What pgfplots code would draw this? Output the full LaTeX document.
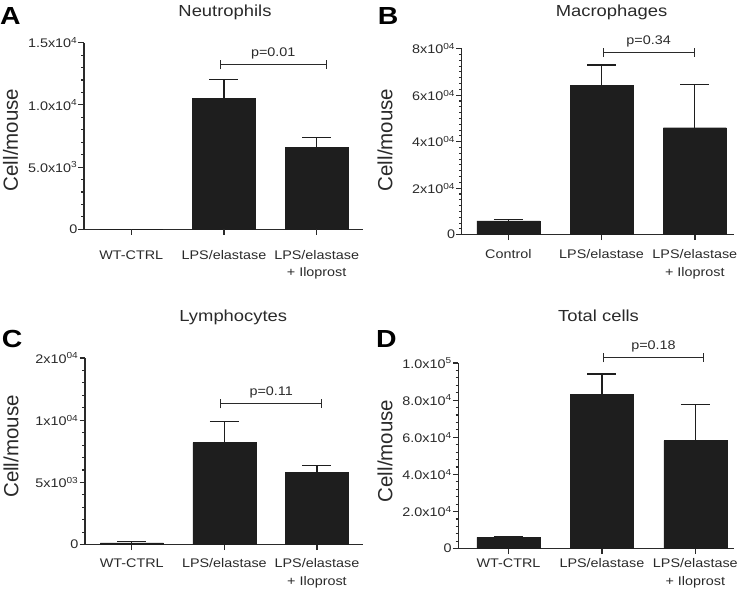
\documentclass[border=0pt]{standalone}
\usepackage{fontspec}
\setmainfont{Liberation Sans}[FakeStretch=1.15]
\newfontfamily\ylabfont{Liberation Sans}
\usepackage{pgfplots}
\pgfplotsset{compat=1.18}
\usetikzlibrary{arrows.meta}

\definecolor{barfill}{HTML}{1E1E1E}
\definecolor{ink}{HTML}{2A2A2A}
\newcommand{\tfont}{\fontsize{12.5}{17.5}\selectfont}

\tikzset{bracket/.style={ink, line width=1pt, {Bar[width=9pt]}-{Bar[width=9pt]}}}

% category ticks below the x axis, major ticks left of the y axis
\newcommand{\catticks}{%
  \pgfplotsinvokeforeach{0,1,2}{\draw[ink, line width=1.3pt] (axis cs:##1,0) -- ([yshift=-5.5pt]axis cs:##1,0);}}
\newcommand{\valticks}[2]{%
  \pgfplotsinvokeforeach{#2}{\draw[ink, line width=1.1pt] (axis cs:#1,##1) -- ([xshift=-5.5pt]axis cs:#1,##1);}}

\pgfplotsset{
  panel/.style={
    scale only axis, anchor=south west, clip=false,
    axis x line=bottom, axis y line=left,
    axis line style={-, line width=1.3pt, ink},
    enlargelimits=false,
    ymin=0,
    scaled y ticks=false,
    xtick={0,1,2},
    xtick align=outside, ytick align=outside,
    major tick length=5.5pt, minor tick length=2.7pt,
    x tick style={draw=ink, line width=1.4pt},
    y tick style={draw=ink, line width=1.1pt},
    ticklabel style={font=\tfont, text=ink},
    xticklabel style={align=center},
    yticklabel style={inner sep=1pt},
  },
  bars/.style={
    ybar, bar width=63pt, fill=barfill, draw=barfill,
    error bars/.cd, y dir=plus, y explicit, error mark=|,
    error bar style={line width=1.3pt, barfill},
    error mark options={mark size=14.5pt, line width=1.3pt, barfill},
  },
}

\begin{document}
\begin{tikzpicture}
\useasboundingbox (0,0) rectangle (742pt,596pt);

% A: neutrophils
\begin{axis}[panel, at={(84pt,366.7pt)}, width=279pt, height=186.6pt,
    xmin=-0.51, xmax=2.5, ymax=15000,
    ytick={0,5000,10000,15000}, minor y tick num=4,
    yticklabels={0, 5.0x10\textsuperscript{3}, 1.0x10\textsuperscript{4}, 1.5x10\textsuperscript{4}},
    xticklabels={WT-CTRL, LPS/elastase, {LPS/elastase\\+ Iloprost}},
    xticklabel style={yshift=-12pt}]
  \addplot[bars] table[x=x, y=y, y error=e, row sep=\\] {
    x y e \\ 0 0 0 \\ 1 10500 1550 \\ 2 6600 800 \\
  };
  \catticks
  \valticks{-0.51}{5000,10000,15000}
  \draw[bracket] (axis cs:0.955,13226) -- (axis cs:2.108,13226)
    node[midway, anchor=base, yshift=8pt, font=\tfont, text=ink] {p=0.01};
\end{axis}

% B: macrophages
\begin{axis}[panel, at={(461.7pt,361.3pt)}, width=272.3pt, height=186pt,
    xmin=-0.5, xmax=2.42, ymax=80000,
    ytick={0,20000,40000,60000,80000}, minor y tick num=7,
    yticklabels={0, 2x10\textsuperscript{04}, 4x10\textsuperscript{04}, 6x10\textsuperscript{04}, 8x10\textsuperscript{04}},
    xticklabels={Control, LPS/elastase, {LPS/elastase\\+ Iloprost}},
    xticklabel style={yshift=-6pt}]
  \addplot[bars] table[x=x, y=y, y error=e, row sep=\\] {
    x y e \\ 0 5900 550 \\ 1 64300 8700 \\ 2 46000 18500 \\
  };
  \catticks
  \valticks{-0.5}{20000,40000,60000,80000}
  \draw[bracket] (axis cs:1.01,78280) -- (axis cs:2.0,78280)
    node[midway, anchor=base, yshift=8pt, font=\tfont, text=ink] {p=0.34};
\end{axis}

% C: lymphocytes (top tick is labelled 2x10^04 in the source)
\begin{axis}[panel, at={(85pt,51.3pt)}, width=278.3pt, height=186.7pt,
    xmin=-0.505, xmax=2.5, ymax=15000,
    ytick={0,5000,10000,15000}, minor y tick num=4,
    yticklabels={0, 5x10\textsuperscript{03}, 1x10\textsuperscript{04}, 2x10\textsuperscript{04}},
    xticklabels={WT-CTRL, LPS/elastase, {LPS/elastase\\+ Iloprost}},
    xticklabel style={yshift=-5pt}]
  \addplot[bars] table[x=x, y=y, y error=e, row sep=\\] {
    x y e \\ 0 150 100 \\ 1 8200 1700 \\ 2 5800 550 \\
  };
  \catticks
  \valticks{-0.505}{5000,10000,15000}
  \draw[bracket] (axis cs:0.955,11310) -- (axis cs:2.057,11310)
    node[midway, anchor=base, yshift=8pt, font=\tfont, text=ink] {p=0.11};
\end{axis}

% D: total cells
\begin{axis}[panel, at={(458.3pt,47.3pt)}, width=276pt, height=185.7pt,
    xmin=-0.537, xmax=2.417, ymax=100000,
    ytick={0,20000,40000,60000,80000,100000}, minor y tick num=4,
    yticklabels={0, 2.0x10\textsuperscript{4}, 4.0x10\textsuperscript{4}, 6.0x10\textsuperscript{4}, 8.0x10\textsuperscript{4}, 1.0x10\textsuperscript{5}},
    xticklabels={WT-CTRL, LPS/elastase, {LPS/elastase\\+ Iloprost}},
    xticklabel style={yshift=-1pt}]
  \addplot[bars] table[x=x, y=y, y error=e, row sep=\\] {
    x y e \\ 0 6100 300 \\ 1 83000 11000 \\ 2 58200 19300 \\
  };
  \catticks
  \valticks{-0.537}{20000,40000,60000,80000,100000}
  \draw[bracket] (axis cs:1.009,102800) -- (axis cs:2.096,102800)
    node[midway, anchor=base, yshift=8pt, font=\tfont, text=ink] {p=0.18};
\end{axis}

% titles
\begin{scope}[every node/.style={anchor=base, text=ink, font=\fontsize{16}{16}\selectfont}]
  \node at (225pt,579.3pt) {Neutrophils};
  \node at (611.5pt,579.3pt) {Macrophages};
  \node at (233.3pt,274.7pt) {Lymphocytes};
  \node at (598.5pt,274.7pt) {Total cells};
\end{scope}

% panel letters
\begin{scope}[every node/.style={anchor=base west, inner sep=0pt, text=black, font=\bfseries\fontsize{24.7}{25}\selectfont}]
  \node at (0pt,571pt) {A};
  \node at (377.7pt,571pt) {B};
  \node at (1.7pt,248pt) {C};
  \node at (376pt,248pt) {D};
\end{scope}

% y labels
\begin{scope}[every node/.style={rotate=90, text=ink, font=\ylabfont\fontsize{20.5}{20.5}\selectfont}]
  \node at (10.5pt,456pt) {Cell/mouse};
  \node at (385pt,456pt) {Cell/mouse};
  \node at (11pt,149.5pt) {Cell/mouse};
  \node at (385pt,145pt) {Cell/mouse};
\end{scope}
\end{tikzpicture}
\end{document}
